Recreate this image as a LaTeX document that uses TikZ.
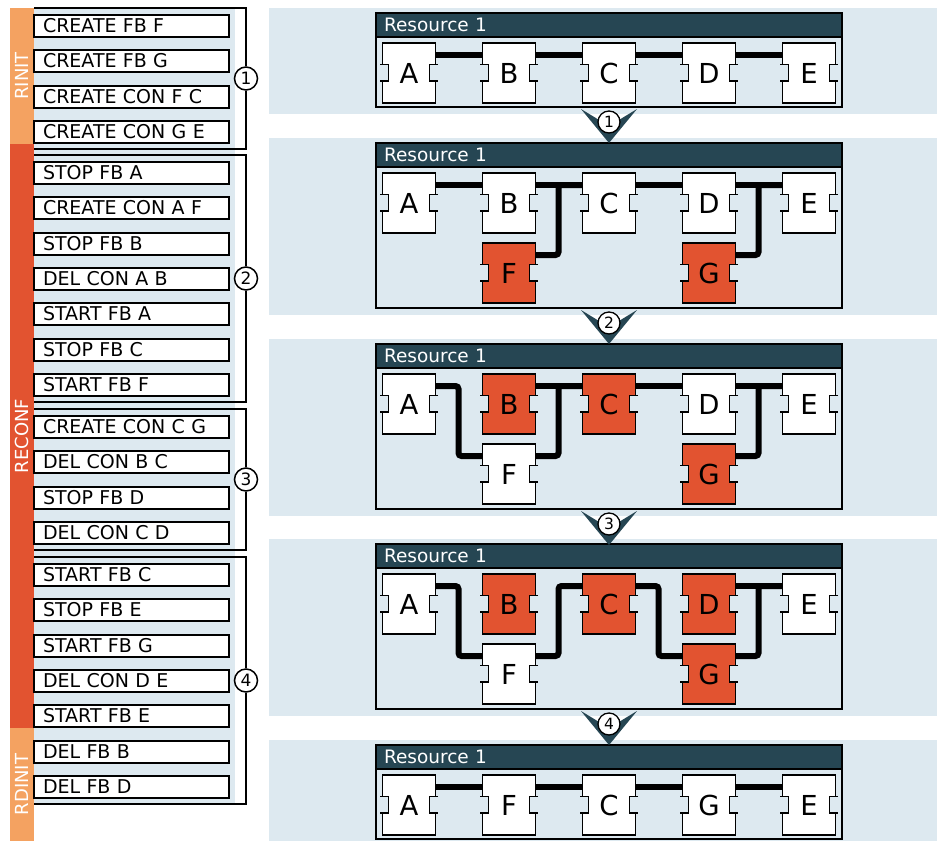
\documentclass[tikz,border=0pt]{standalone}
\usepackage{fontspec}
\setmainfont{DejaVu Sans}
\definecolor{cdark}{RGB}{38,70,83}
\definecolor{cpale}{RGB}{221,233,240}
\definecolor{corange}{RGB}{244,162,97}
\definecolor{cred}{RGB}{226,83,48}
\tikzset{
  cmdbox/.style={draw,line width=1.3pt,fill=white,minimum width=195pt,minimum height=22pt,
    text width=177pt,inner xsep=9pt,inner ysep=0pt,align=left,text height=13.8pt,text depth=0pt,
    font=\fontsize{19}{20}\selectfont},
  strip/.style={rotate=90,text=white,minimum height=24pt,inner sep=0pt,text height=13pt,text depth=0pt,
    font=\fontsize{18}{20}\selectfont},
  grpnum/.style={circle,draw,line width=1.5pt,fill=white,minimum size=23pt,inner sep=0pt,
    font=\fontsize{17}{17}\selectfont},
  arrnum/.style={circle,draw,line width=1.3pt,fill=white,minimum size=22pt,inner sep=0pt,
    font=\fontsize{15.5}{16}\selectfont},
  hdr/.style={draw,line width=1.8pt,fill=cdark,text=white,anchor=north west,outer sep=0pt,
    minimum height=24pt,text width=450pt,inner xsep=8pt,inner ysep=0pt,align=left,
    text height=13.5pt,text depth=0pt,font=\fontsize{18.5}{20}\selectfont},
  fb/.style={draw,line width=1.6pt,fill=white,minimum width=53pt,minimum height=60pt,
    inner sep=0pt,outer sep=0pt,text height=20pt,text depth=0pt,font=\fontsize{27.5}{28}\selectfont},
  bracket/.style={line width=2pt},
  boxline/.style={line width=1.8pt},
  wire/.style={line width=6pt,rounded corners=3pt},
}
% side notches of a function block
\newcommand\fbnotch[1]{%
  \fill[cpale] ([shift={(-1.5,8.5)}]#1.west) rectangle ([shift={(6,-8)}]#1.west);
  \draw[line width=1.6pt] ([shift={(-2.5,8.5)}]#1.west) -- ++(8.5,0) -- ++(0,-16.5) -- ++(-8.5,0);
  \fill[cpale] ([shift={(1.5,8.5)}]#1.east) rectangle ([shift={(-6,-8)}]#1.east);
  \draw[line width=1.6pt] ([shift={(2.5,8.5)}]#1.east) -- ++(-8.5,0) -- ++(0,-16.5) -- ++(8.5,0);
}

\begin{document}
\begin{tikzpicture}[x=1pt,y=1pt]
  \useasboundingbox (0,0) rectangle (937,-841);
  % command list
  \fill[cpale] (34,-8) rectangle (235,-804);
  \node[strip,fill=corange,minimum width=136pt] (rinit) at (22,-76) {RINIT};
  \node[strip,fill=cred,minimum width=584pt] (reconf) at (22,-436) {RECONF};
  \node[strip,fill=corange,minimum width=113pt] (rdinit) at (22,-784.5) {RDINIT};
  \foreach \i/\y/\txt in {1/26/CREATE FB F,2/61/CREATE FB G,3/97/CREATE CON F C,4/132/CREATE CON G E,
      5/173/STOP FB A,6/208/CREATE CON A F,7/244/STOP FB B,8/279/DEL CON A B,9/314/START FB A,
      10/350/STOP FB C,11/385/START FB F,12/427/CREATE CON C G,13/462/DEL CON B C,14/498/STOP FB D,
      15/533/DEL CON C D,16/575/START FB C,17/610/STOP FB E,18/646/START FB G,19/681/DEL CON D E,
      20/716/START FB E,21/752/DEL FB B,22/787/DEL FB D}
    \node[cmdbox] (cmd\i) at (131.5,-\y) {\txt};
  \foreach \g/\ya/\yb in {1/8/149,2/155/402,3/409/550,4/557/804} {
    \node[grpnum] (grp\g) at (246,{-(\ya+\yb)/2}) {\g};
    \draw[bracket] (34,-\ya) -| (grp\g.north);
    \draw[bracket] (grp\g.south) |- (34,-\yb);
  }
  % resource panels
  \foreach \p/\ty/\h in {1/13/94,2/143/165,3/344/165,4/544/165,5/745/94} {
    \fill[cpale] (269,-\ty+5) rectangle (937,{max(-\ty-\h-7,-841)});
    \draw[boxline] (376,-\ty) rectangle (842,-\ty-\h);
    \node[hdr] (res\p) at (376,-\ty) {Resource 1};
  }
  \foreach \n/\c in {A/0,B/1,C/2,D/3,E/4}
    {\node[fb] (p1\n) at (409+100*\c,-73) {\n}; \fbnotch{p1\n}}
  \foreach \n/\c/\r/\f in {A/0/0/white,B/1/0/white,C/2/0/white,D/3/0/white,E/4/0/white,F/1/1/cred,G/3/1/cred}
    {\node[fb,fill=\f] (p2\n) at (409+100*\c,-203-70*\r) {\n}; \fbnotch{p2\n}}
  \foreach \n/\c/\r/\f in {A/0/0/white,B/1/0/cred,C/2/0/cred,D/3/0/white,E/4/0/white,F/1/1/white,G/3/1/cred}
    {\node[fb,fill=\f] (p3\n) at (409+100*\c,-404-70*\r) {\n}; \fbnotch{p3\n}}
  \foreach \n/\c/\r/\f in {A/0/0/white,B/1/0/cred,C/2/0/cred,D/3/0/cred,E/4/0/white,F/1/1/white,G/3/1/cred}
    {\node[fb,fill=\f] (p4\n) at (409+100*\c,-604-70*\r) {\n}; \fbnotch{p4\n}}
  \foreach \n/\c in {A/0,F/1,C/2,G/3,E/4}
    {\node[fb] (p5\n) at (409+100*\c,-805) {\n}; \fbnotch{p5\n}}
  % connections
  \foreach \a/\b in {p1A/p1B,p1B/p1C,p1C/p1D,p1D/p1E,p2A/p2B,p2B/p2C,p2C/p2D,p2D/p2E,
      p3B/p3C,p3C/p3D,p3D/p3E,p4D/p4E,p5A/p5F,p5F/p5C,p5C/p5G,p5G/p5E}
    \draw[wire] ([yshift=18pt]\a.east) -- ([yshift=18pt]\b.west);
  \foreach \a/\b in {p2F/p2C,p2G/p2E,p3A/p3F,p3F/p3C,p3G/p3E,p4A/p4F,p4F/p4C,p4C/p4G,p4G/p4E}
    \draw[wire] ([yshift=18pt]\a.east) -- ++(23,0) |- ([yshift=18pt]\b.west);
  % steps between panels
  \foreach \i/\ty in {1/109,2/310,3/511,4/711} {
    \fill[cdark] (581,-\ty) -- (609,-\ty-34) -- (637,-\ty) -- (609,-\ty-17) -- cycle;
    \node[arrnum] (arr\i) at (609,-\ty-13) {\i};
  }
\end{tikzpicture}
\end{document}
